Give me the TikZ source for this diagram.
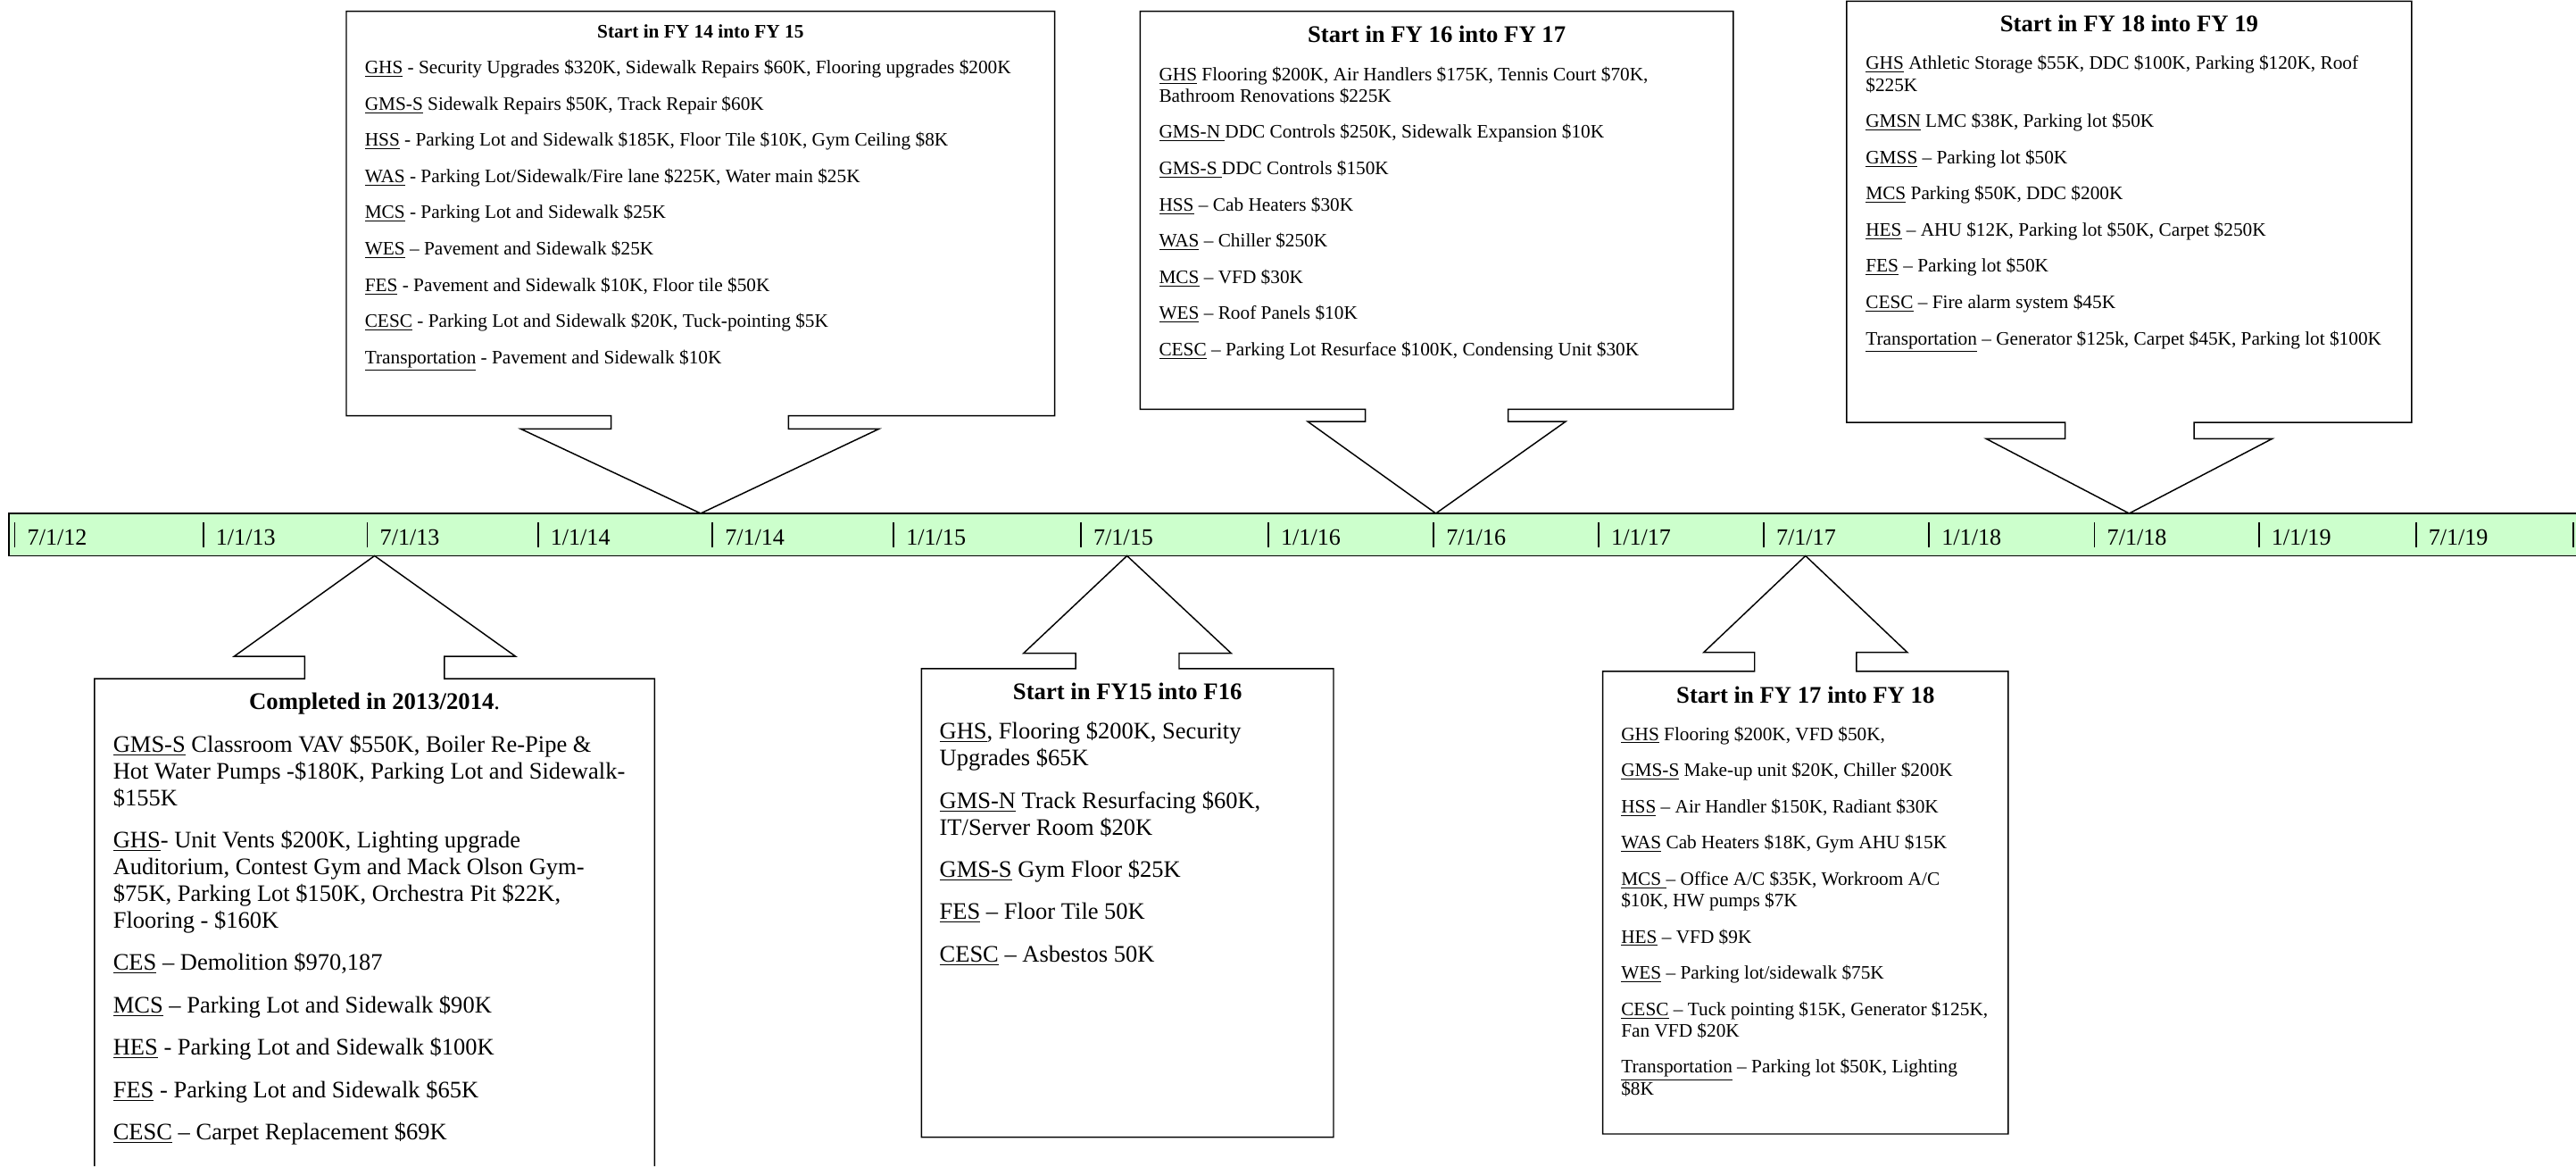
\documentclass[tikz,border=0pt]{standalone}
\usepackage{fontspec}
\setmainfont{Liberation Serif}
\definecolor{bandgreen}{RGB}{204,255,204}

\begin{document}
\begin{tikzpicture}[x=1pt,y=-1pt,
    callout/.style={draw,line width=.8pt,line join=miter},
    tick/.style={line width=1pt},
    date/.style={anchor=base west,inner sep=0pt,font=\fontsize{14.2}{16}\selectfont},
    head/.style={anchor=base,inner sep=0pt,font=\bfseries\fontsize{14.5}{16}\selectfont},
    small/.style={anchor=base west,inner sep=0pt,align=left,font=\fontsize{11.57}{13.1}\selectfont},
    large/.style={anchor=base west,inner sep=0pt,align=left,font=\fontsize{14.4}{16.2}\selectfont}]
	\useasboundingbox (0,0) rectangle (1568,709.6);
	% time line
	\fill[bandgreen] (5.3,312.4) rectangle (1568,338.2);
	\draw[line width=1pt] (1568,312.4) -- (5.3,312.4) -- (5.3,338.2) -- (1568,338.2);
	\foreach \x/\d [count=\i] in {9/{7/1/12},123.7/{1/1/13},223.6/{7/1/13},327.4/{1/1/14},
	    433.6/{7/1/14},543.9/{1/1/15},657.9/{7/1/15},772/{1/1/16},872.6/{7/1/16},
	    973.1/{1/1/17},1073.5/{7/1/17},1174.2/{1/1/18},1274.9/{7/1/18},1374.9/{1/1/19},
	    1470.5/{7/1/19}}{
		\draw[tick] (\x,317.8) -- (\x,333);
		\node[date] (d\i) at (\x+7.5,331.8) {\d};
	}
	\draw[tick] (1566.4,317.8) -- (1566.4,333);
	% callouts above
	\draw[callout] (210.8,6.9) -- (642,6.9) -- (642,253) -- (480,253) -- (480,261) -- (535,261)
	    -- (426.5,312.4) -- (317,261) -- (372,261) -- (372,253) -- (210.8,253) -- cycle;
	\draw[callout] (694,6.9) -- (1055,6.9) -- (1055,249) -- (918,249) -- (918,256.5) -- (953,256.5)
	    -- (874,312.4) -- (796,256.5) -- (831,256.5) -- (831,249) -- (694,249) -- cycle;
	\draw[callout] (1124,0.8) -- (1468,0.8) -- (1468,257) -- (1335.5,257) -- (1335.5,267) -- (1383,267)
	    -- (1296,312.4) -- (1209,267) -- (1257,267) -- (1257,257) -- (1124,257) -- cycle;
	% callouts below
	\draw[callout] (57.5,709.6) -- (57.5,413) -- (185.5,413) -- (185.5,399.4) -- (142.5,399.4)
	    -- (228,338.2) -- (313.8,399.4) -- (270.5,399.4) -- (270.5,413) -- (398.5,413) -- (398.5,709.6);
	\draw[callout] (560.9,692) -- (560.9,406.9) -- (654.7,406.9) -- (654.7,397.5) -- (623,397.5)
	    -- (686,338.2) -- (749.4,397.5) -- (717.7,397.5) -- (717.7,406.9) -- (811.7,406.9) -- (811.7,692) -- cycle;
	\draw[callout] (975.6,690) -- (975.6,408.5) -- (1068,408.5) -- (1068,397) -- (1037,397)
	    -- (1099,338.2) -- (1161,397) -- (1130,397) -- (1130,408.5) -- (1222.4,408.5) -- (1222.4,690) -- cycle;
	% FY 14 into FY 15 (lists are placed by their last line)
	\node[head,font=\bfseries\fontsize{11.6}{13}\selectfont] (fy14) at (426.4,22.9) {Start in FY 14 into FY 15};
	\node[small] (fy14list) at (221.9,221.3) {\underline{GHS} - Security Upgrades \$320K, Sidewalk Repairs \$60K, Flooring upgrades \$200K\\[8.95pt]
	    \underline{GMS-S} Sidewalk Repairs \$50K, Track Repair \$60K\\[8.95pt]
	    \underline{HSS} - Parking Lot and Sidewalk \$185K, Floor Tile \$10K, Gym Ceiling \$8K\\[8.95pt]
	    \underline{WAS} - Parking Lot/Sidewalk/Fire lane \$225K, Water main \$25K\\[8.95pt]
	    \underline{MCS} - Parking Lot and Sidewalk \$25K\\[8.95pt]
	    \underline{WES} – Pavement and Sidewalk \$25K\\[8.95pt]
	    \underline{FES} - Pavement and Sidewalk \$10K, Floor tile \$50K\\[8.95pt]
	    \underline{CESC} - Parking Lot and Sidewalk \$20K, Tuck-pointing \$5K\\[8.95pt]
	    \underline{Transportation} - Pavement and Sidewalk \$10K};
	% FY 16 into FY 17
	\node[head] (fy16) at (874.5,26) {Start in FY 16 into FY 17};
	\node[small] (fy16list) at (705.3,216.5) {\underline{GHS} Flooring \$200K, Air Handlers \$175K, Tennis Court \$70K,\\
	    Bathroom Renovations \$225K\\[8.95pt]
	    \underline{GMS-N\ }DDC Controls \$250K, Sidewalk Expansion \$10K\\[8.95pt]
	    \underline{GMS-S\ }DDC Controls \$150K\\[8.95pt]
	    \underline{HSS} – Cab Heaters \$30K\\[8.95pt]
	    \underline{WAS} – Chiller \$250K\\[8.95pt]
	    \underline{MCS} – VFD \$30K\\[8.95pt]
	    \underline{WES} – Roof Panels \$10K\\[8.95pt]
	    \underline{CESC} – Parking Lot Resurface \$100K, Condensing Unit \$30K};
	% FY 18 into FY 19
	\node[head] (fy18) at (1296,19.1) {Start in FY 18 into FY 19};
	\node[small] (fy18list) at (1135.5,209.8) {\underline{GHS} Athletic Storage \$55K, DDC \$100K, Parking \$120K, Roof\\
	    \$225K\\[8.95pt]
	    \underline{GMSN} LMC \$38K, Parking lot \$50K\\[8.95pt]
	    \underline{GMSS} – Parking lot \$50K\\[8.95pt]
	    \underline{MCS} Parking \$50K, DDC \$200K\\[8.95pt]
	    \underline{HES} – AHU \$12K, Parking lot \$50K, Carpet \$250K\\[8.95pt]
	    \underline{FES} – Parking lot \$50K\\[8.95pt]
	    \underline{CESC} – Fire alarm system \$45K\\[8.95pt]
	    \underline{Transportation} – Generator \$125k, Carpet \$45K, Parking lot \$100K};
	% completed 2013/2014
	\node[head] (done) at (228,431.7) {Completed in 2013/2014\mdseries.};
	\node[large] (donelist) at (68.7,693.6) {\underline{GMS-S} Classroom VAV \$550K, Boiler Re-Pipe \&\\
	    Hot Water Pumps -\$180K, Parking Lot and Sidewalk-\\
	    \$155K\\[9.6pt]
	    \underline{GHS}- Unit Vents \$200K, Lighting upgrade\\
	    Auditorium, Contest Gym and Mack Olson Gym-\\
	    \$75K, Parking Lot \$150K, Orchestra Pit \$22K,\\
	    Flooring - \$160K\\[9.6pt]
	    \underline{CES} – Demolition \$970,187\\[9.6pt]
	    \underline{MCS} – Parking Lot and Sidewalk \$90K\\[9.6pt]
	    \underline{HES} - Parking Lot and Sidewalk \$100K\\[9.6pt]
	    \underline{FES} - Parking Lot and Sidewalk \$65K\\[9.6pt]
	    \underline{CESC} – Carpet Replacement \$69K};
	% FY15 into F16
	\node[head] (fy15) at (686.3,425.8) {Start in FY15 into F16};
	\node[large] (fy15list) at (571.7,585.4) {\underline{GHS}, Flooring \$200K, Security\\
	    Upgrades \$65K\\[9.6pt]
	    \underline{GMS-N} Track Resurfacing \$60K,\\
	    IT/Server Room \$20K\\[9.6pt]
	    \underline{GMS-S} Gym Floor \$25K\\[9.6pt]
	    \underline{FES} – Floor Tile 50K\\[9.6pt]
	    \underline{CESC} – Asbestos 50K};
	% FY 17 into FY 18
	\node[head] (fy17) at (1099,427.6) {Start in FY 17 into FY 18};
	\node[small] (fy17list) at (986.6,666.1) {\underline{GHS} Flooring \$200K, VFD \$50K,\\[8.95pt]
	    \underline{GMS-S} Make-up unit \$20K, Chiller \$200K\\[8.95pt]
	    \underline{HSS} – Air Handler \$150K, Radiant \$30K\\[8.95pt]
	    \underline{WAS} Cab Heaters \$18K, Gym AHU \$15K\\[8.95pt]
	    \underline{MCS\ }– Office A/C \$35K, Workroom A/C\\
	    \$10K, HW pumps \$7K\\[8.95pt]
	    \underline{HES} – VFD \$9K\\[8.95pt]
	    \underline{WES} – Parking lot/sidewalk \$75K\\[8.95pt]
	    \underline{CESC} – Tuck pointing \$15K, Generator \$125K,\\
	    Fan VFD \$20K\\[8.95pt]
	    \underline{Transportation} – Parking lot \$50K, Lighting\\
	    \$8K};
\end{tikzpicture}
\end{document}
